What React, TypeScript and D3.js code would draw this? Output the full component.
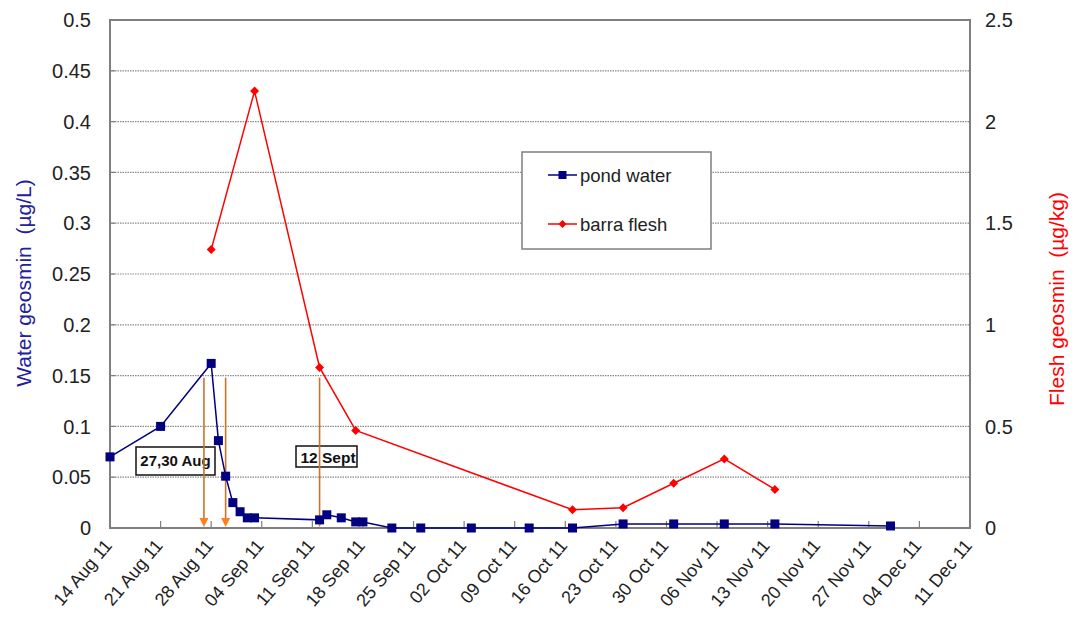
import React from "react";
import * as d3 from "d3";

// Weekly date ticks along the x axis
const weekTicks = [
  "2011-08-14", "2011-08-21", "2011-08-28", "2011-09-04", "2011-09-11", "2011-09-18",
  "2011-09-25", "2011-10-02", "2011-10-09", "2011-10-16", "2011-10-23", "2011-10-30",
  "2011-11-06", "2011-11-13", "2011-11-20", "2011-11-27", "2011-12-04", "2011-12-11",
];

// Pond water geosmin (µg/L)
const pondDates = [
  "2011-08-14", "2011-08-21", "2011-08-28", "2011-08-29", "2011-08-30", "2011-08-31",
  "2011-09-01", "2011-09-02", "2011-09-03", "2011-09-12", "2011-09-13", "2011-09-15",
  "2011-09-17", "2011-09-18", "2011-09-22", "2011-09-26", "2011-10-03", "2011-10-11",
  "2011-10-17", "2011-10-24", "2011-10-31", "2011-11-07", "2011-11-14", "2011-11-30",
];
const pondValues = [
  0.07, 0.1, 0.162, 0.086, 0.051, 0.025,
  0.016, 0.01, 0.01, 0.008, 0.013, 0.01,
  0.006, 0.006, 0, 0, 0, 0,
  0, 0.004, 0.004, 0.004, 0.004, 0.002,
];

// Barra flesh geosmin (µg/kg)
const fleshDates = [
  "2011-08-28", "2011-09-03", "2011-09-12", "2011-09-17", "2011-10-17",
  "2011-10-24", "2011-10-31", "2011-11-07", "2011-11-14",
];
const fleshValues = [1.37, 2.15, 0.79, 0.48, 0.09, 0.1, 0.22, 0.34, 0.19];

// Treatment events marked with arrows
const eventDates = ["2011-08-27", "2011-08-30", "2011-09-12"];
const eventTop = 0.148;

const leftTicks = [0, 0.05, 0.1, 0.15, 0.2, 0.25, 0.3, 0.35, 0.4, 0.45, 0.5];
const rightTicks = [0, 0.5, 1, 1.5, 2, 2.5];

const parse = (s: string) => new Date(s + "T00:00:00Z");
const fmtDate = d3.utcFormat("%d %b %y");

const FONT = "Arial, 'Liberation Sans', sans-serif";

export default function App() {
  const W = 1077, H = 623;
  const left = 110, right = 970, top = 20, bottom = 528;

  const x = d3.scaleUtc()
    .domain([parse(weekTicks[0]), parse(weekTicks[weekTicks.length - 1])])
    .range([left, right]);
  const yL = d3.scaleLinear().domain([0, 0.5]).range([bottom, top]);
  const yR = d3.scaleLinear().domain([0, 2.5]).range([bottom, top]);

  const pond = pondDates.map((d, i) => ({ d: parse(d), v: pondValues[i] }));
  const flesh = fleshDates.map((d, i) => ({ d: parse(d), v: fleshValues[i] }));

  const pondLine = d3.line<{ d: Date; v: number }>().x(p => x(p.d)).y(p => yL(p.v));
  const fleshLine = d3.line<{ d: Date; v: number }>().x(p => x(p.d)).y(p => yR(p.v));

  const axisColor = "#7f7f7f";
  const navy = "#000080";
  const red = "#ff0000";

  const diamond = (cx: number, cy: number, r: number) =>
    `M${cx},${cy - r}L${cx + r},${cy}L${cx},${cy + r}L${cx - r},${cy}Z`;

  return (
    <svg width={W} height={H} style={{ position: "absolute", left: 0, top: 0, background: "#fff" }}
      fontFamily={FONT}>
      <rect x={0} y={0} width={W} height={H} fill="#fff" />

      {/* horizontal gridlines */}
      {leftTicks.filter(t => t > 0 && t < 0.5).map(t => (
        <line key={"g" + t} x1={left} x2={right} y1={yL(t)} y2={yL(t)}
          stroke="#8a8a8a" strokeWidth={1.2} strokeDasharray="1.5,1" />
      ))}

      {/* plot frame */}
      <path d={`M${left},${bottom}V${top}H${right}V${bottom}Z`} fill="none" stroke={axisColor} strokeWidth={2} />

      {/* x ticks (inside) */}
      {weekTicks.map(t => (
        <line key={"xt" + t} x1={x(parse(t))} x2={x(parse(t))} y1={bottom} y2={bottom - 7}
          stroke={axisColor} strokeWidth={1.2} />
      ))}
      {/* left ticks */}
      {leftTicks.map(t => (
        <line key={"lt" + t} x1={left} x2={left + 5} y1={yL(t)} y2={yL(t)} stroke={axisColor} strokeWidth={1.2} />
      ))}

      {/* left tick labels */}
      {leftTicks.map(t => (
        <text key={"ll" + t} x={91} y={yL(t)} dy="0.36em" textAnchor="end" fontSize={20} fill="#222">
          {String(t)}
        </text>
      ))}
      {/* right tick labels */}
      {rightTicks.map(t => (
        <text key={"rl" + t} x={985} y={yR(t)} dy="0.36em" textAnchor="start" fontSize={20} fill="#222">
          {String(t)}
        </text>
      ))}

      {/* x tick labels */}
      {weekTicks.map(t => {
        const px = x(parse(t)) + 3;
        const py = 546;
        return (
          <text key={"xl" + t} x={px} y={py} textAnchor="end" fontSize={18} fill="#222"
            transform={`rotate(-50 ${px} ${py})`}>
            {fmtDate(parse(t))}
          </text>
        );
      })}

      {/* axis titles */}
      <text transform={`translate(31,283) rotate(-90)`} textAnchor="middle" fontSize={21} fill="#2020a0">
        {"Water geosmin\u00a0 (µg/L)"}
      </text>
      <text transform={`translate(1064,299) rotate(-90)`} textAnchor="middle" fontSize={21} fill={red}>
        {"Flesh geosmin\u00a0 (µg/kg)"}
      </text>

      {/* annotation boxes */}
      <rect x={136} y={447} width={79} height={28} fill="none" stroke="#111" strokeWidth={1.5} />
      <text x={175.5} y={461} dy="0.36em" textAnchor="middle" fontSize={15} fontWeight="bold" fill="#111">27,30 Aug</text>
      <rect x={296} y={446} width={61} height={21} fill="none" stroke="#111" strokeWidth={1.5} />
      <text x={328} y={457} dy="0.36em" textAnchor="middle" fontSize={15.5} fontWeight="bold" fill="#111">12 Sept</text>

      {/* event arrows */}
      {eventDates.map(e => {
        const ex = x(parse(e));
        return (
          <g key={"ev" + e}>
            <line x1={ex} x2={ex} y1={yL(eventTop)} y2={bottom - 8} stroke="#c8742c" strokeWidth={1.6} />
            <path d={`M${ex - 4.5},${bottom - 10}L${ex + 4.5},${bottom - 10}L${ex},${bottom - 1}Z`} fill="#ff7f1e" />
          </g>
        );
      })}

      {/* series lines */}
      <path d={pondLine(pond) || ""} fill="none" stroke={navy} strokeWidth={1.5} />
      <path d={fleshLine(flesh) || ""} fill="none" stroke={red} strokeWidth={1.5} />

      {pond.map((p, i) => (
        <rect key={"pm" + i} x={x(p.d) - 4.5} y={yL(p.v) - 4.5} width={9} height={9} fill={navy} />
      ))}
      {flesh.map((p, i) => (
        <path key={"fm" + i} d={diamond(x(p.d), yR(p.v), 4.5)} fill={red} />
      ))}

      {/* legend */}
      <rect x={522} y={152} width={189} height={97} fill="#fff" stroke={axisColor} strokeWidth={1.5} />
      <line x1={548} x2={577} y1={175} y2={175} stroke={navy} strokeWidth={1.5} />
      <rect x={558.5} y={171} width={8} height={8} fill={navy} />
      <text x={580} y={175} dy="0.36em" fontSize={18.5} fill="#222">pond water</text>
      <line x1={548} x2={577} y1={224} y2={224} stroke={red} strokeWidth={1.5} />
      <path d={diamond(562.5, 224, 4)} fill={red} />
      <text x={580} y={224} dy="0.36em" fontSize={18.5} fill="#222">barra flesh</text>
    </svg>
  );
}
